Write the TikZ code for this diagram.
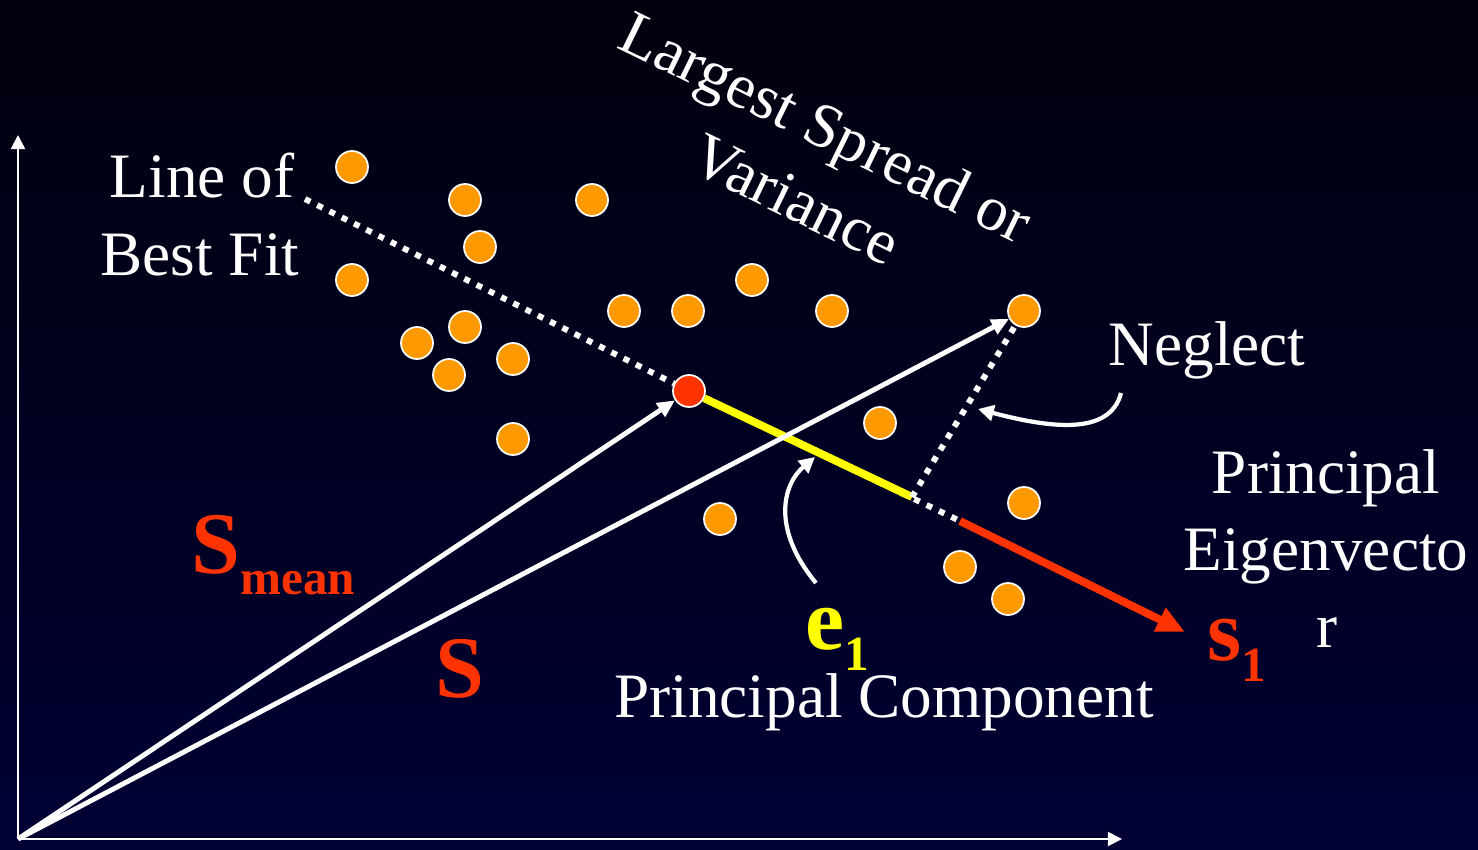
\documentclass[tikz,border=0pt]{standalone}
\usepackage{fontspec}
\setmainfont{Liberation Serif}
\usetikzlibrary{arrows.meta}
\definecolor{bgtop}{HTML}{01010E}
\definecolor{bgbot}{HTML}{000034}
\definecolor{dotfill}{HTML}{FF9900}
\definecolor{meanred}{HTML}{FF3300}
\definecolor{pcyellow}{HTML}{FFFF00}
\newcommand{\lowsub}[1]{\raisebox{-12pt}{\fontsize{28}{34}\selectfont #1}}

\begin{document}
\begin{tikzpicture}[x=0.02cm, y=-0.02cm,
  sample/.style={circle, draw=white, line width=1pt, fill=dotfill, minimum size=0.64cm, inner sep=0pt},
  txt/.style={text=white, font=\fontsize{36}{44}\selectfont, inner sep=0pt, anchor=base},
  symb/.style={font=\fontsize{50}{60}\selectfont\bfseries, inner sep=0pt, anchor=base west},
  vec/.style={white, line width=2.8pt, -{Triangle[length=10pt,width=9pt]}},
  fitline/.style={white, line width=3.4pt, dash pattern=on 3.4pt off 4.4pt},
  curvy/.style={white, line width=2.4pt, -{Triangle[length=9pt,width=9pt]}}]
  % Background
  \shade[top color=bgtop, bottom color=bgbot] (0,0) rectangle (1478,849);

  % Axes
  \coordinate (o) at (18,839);
  \coordinate (ytop) at (18,135);
  \coordinate (xend) at (1122,839);
  \draw[white, line width=1.1pt, -{Triangle[length=8pt,width=8pt]}] (o) -- (ytop);
  \draw[white, line width=1.1pt, -{Triangle[length=8pt,width=8pt]}] (o) -- (xend);

  % Samples
  \foreach \n/\x/\y in {1/352/167, 2/465/200, 3/592/200, 4/480/247, 5/352/280,
      6/465/327, 7/417/343, 8/513/359, 9/449/375, 10/513/439, 11/624/311,
      12/688/311, 13/752/280, 14/832/311, 15/1024/311, 16/880/423, 17/720/519,
      18/1024/503, 19/960/567, 20/1008/599}
    \node[sample] (d\n) at (\x,\y) {};
  \node[sample, fill=meanred] (mean) at (689,391) {};

  % Line of best fit and principal component
  \coordinate (bf1) at (305,199);
  \coordinate (bf2) at (960,521);
  \coordinate (pc) at (912,497);
  \coordinate (s1tip) at (1185,632);
  \draw[fitline] (bf1) -- (mean);
  \draw[fitline] (mean) -- (bf2);
  \draw[pcyellow, line width=4.5pt] (mean) -- (pc);
  \draw[meanred, line width=4.5pt, -{Triangle[length=16pt,width=14pt]}] (bf2) -- (s1tip);
  \draw[fitline] (pc) -- (d15);

  % Vectors
  \draw[vec] (o) -- (mean);
  \draw[vec] (o) -- (d15);

  % Pointers
  \coordinate (ng1) at (1121,393);
  \coordinate (ng2) at (978,409);
  \draw[curvy] (ng1) .. controls (1110,436) and (1050,428) .. (ng2);
  \coordinate (e1a) at (816,583);
  \coordinate (e1b) at (815,457);
  \draw[curvy] (e1a) .. controls (772,530) and (782,485) .. (e1b);

  % Labels
  \node[txt] (lineof) at (202,197) {Line of};
  \node[txt] (bestfit) at (200,275) {Best Fit};
  \node[txt, rotate=-26] (spread) at (817,146) {Largest Spread or};
  \node[txt, rotate=-26] (variance) at (787,218) {Variance};
  \node[txt] (neglect) at (1207,365) {Neglect};
  \node[txt] (princ) at (1326,493) {Principal};
  \node[txt] (eigen) at (1326,570) {Eigenvecto};
  \node[txt] (eigr) at (1327,647) {r};
  \node[txt] (pcomp) at (884,717) {Principal Component};
  \node[symb, text=meanred] (smean) at (191,573) {S\lowsub{mean}};
  \node[symb, text=meanred] (svec) at (435,697) {S};
  \node[symb, text=pcyellow] (e1) at (805,649) {e\lowsub{1}};
  \node[symb, text=meanred] (s1) at (1207,660) {s\lowsub{1}};
\end{tikzpicture}
\end{document}
